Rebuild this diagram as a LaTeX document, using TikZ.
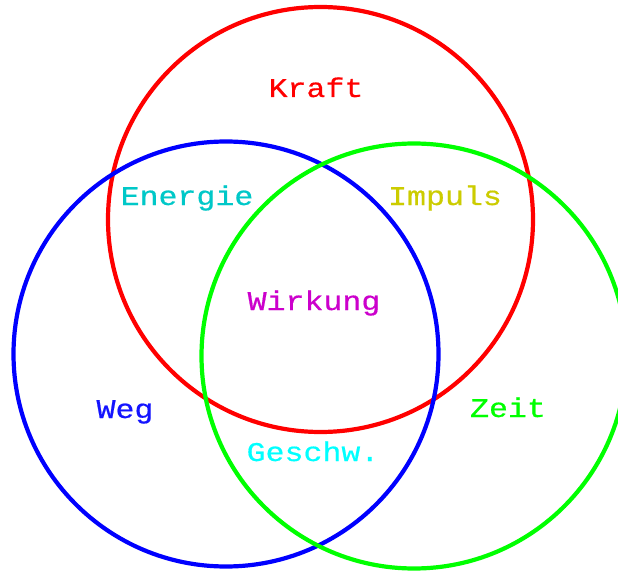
\documentclass[tikz,border=0pt]{standalone}
\usepackage{fontspec}
\newfontfamily\vfont[FakeStretch=1.17,FakeBold=0.6]{Liberation Mono}
\definecolor{cred}{RGB}{255,0,0}
\definecolor{cblue}{RGB}{0,0,255}
\definecolor{cgreen}{RGB}{0,255,0}
\definecolor{cteal}{RGB}{0,200,200}
\definecolor{colive}{RGB}{204,204,0}
\definecolor{cmag}{RGB}{204,0,204}
\definecolor{ccyan}{RGB}{0,255,255}
\definecolor{cwegblue}{RGB}{20,20,255}
\tikzset{
  ring/.style={line width=4.2pt},
  lbl/.style={anchor=base, inner sep=0pt, font=\vfont\fontsize{27}{32}\selectfont}
}
\begin{document}
\begin{tikzpicture}[x=1pt,y=-1pt]
\useasboundingbox (0,0) rectangle (618,572);
\clip (0,0) rectangle (618,572);
\fill[white] (0,0) rectangle (618,572);
\draw[ring, cred] (320.5,219.5) circle[radius=212.5pt];
\draw[ring, cblue] (226,354) circle[radius=212.5pt];
\draw[ring, cgreen] (414,356) circle[radius=212.5pt];
\node[lbl, text=cred] (kraft) at (316,97) {Kraft};
\node[lbl, text=cteal] (energie) at (187,205) {Energie};
\node[lbl, text=colive] (impuls) at (445,205) {Impuls};
\node[lbl, text=cmag] (wirkung) at (314,310) {Wirkung};
\node[lbl, text=cwegblue] (weg) at (125,418) {Weg};
\node[lbl, text=ccyan] (geschw) at (313,461) {Geschw.};
\node[lbl, text=cgreen] (zeit) at (508,417) {Zeit};
\end{tikzpicture}
\end{document}
